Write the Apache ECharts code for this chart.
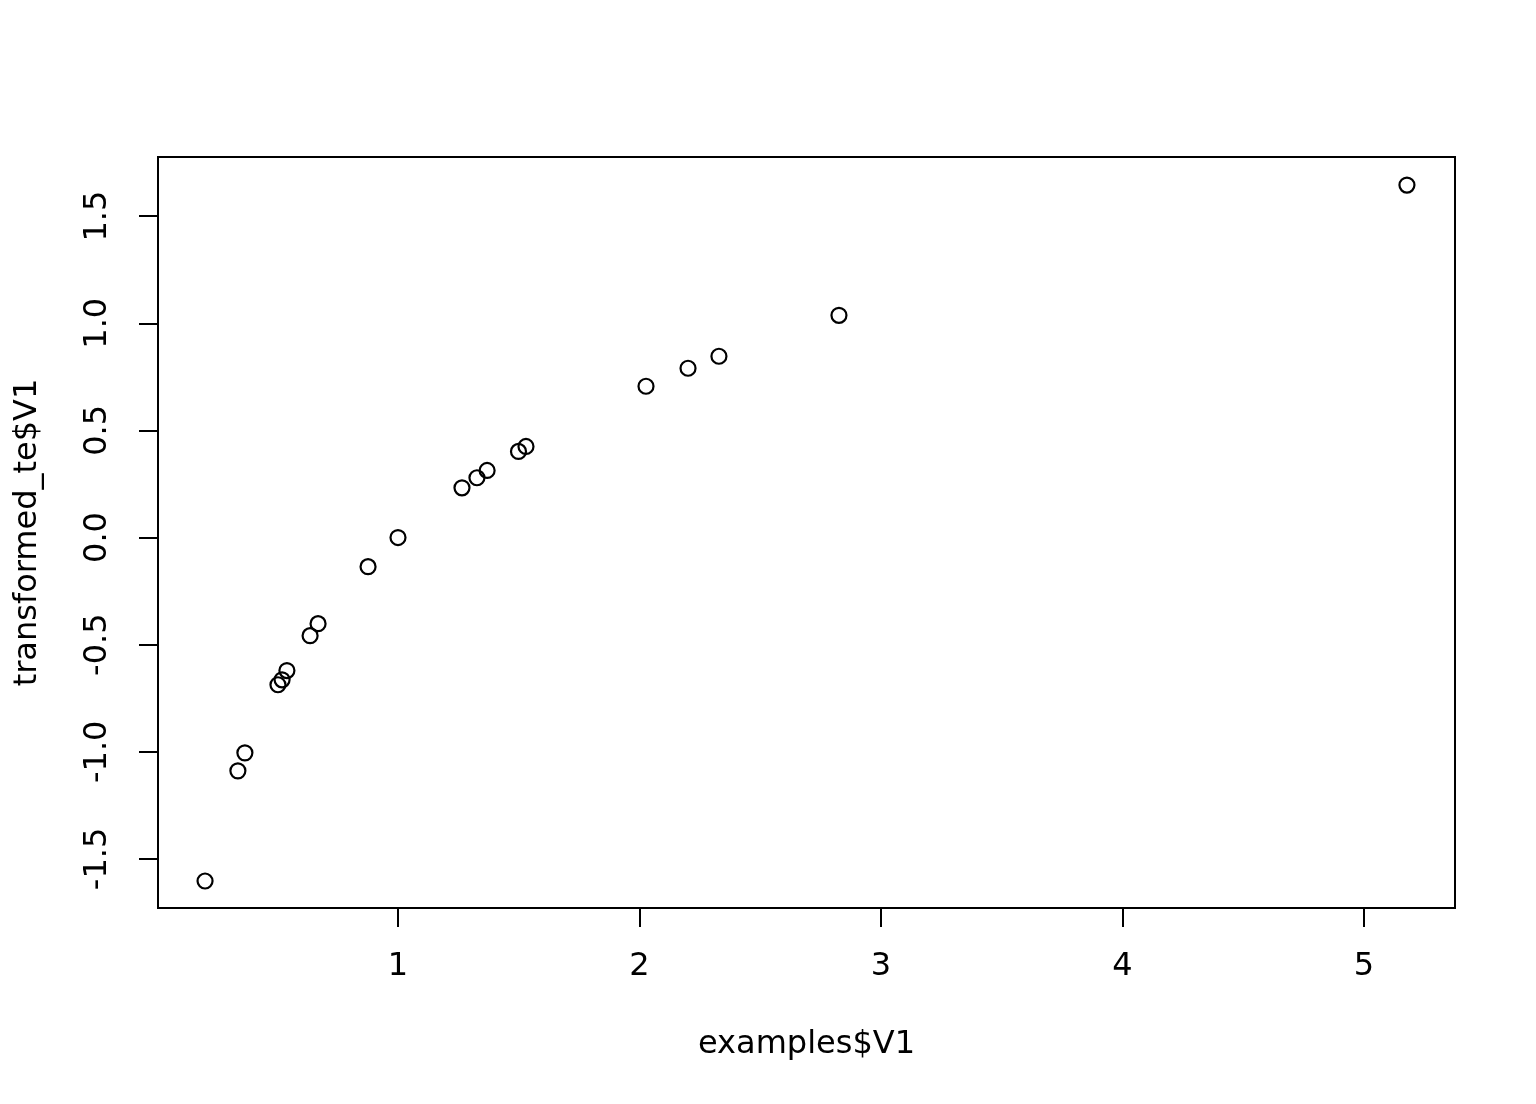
<!DOCTYPE html>
<html>
<head>
<meta charset="utf-8">
<script src="https://cdn.jsdelivr.net/npm/echarts@6/dist/echarts.min.js"></script>
<style>
html,body{margin:0;padding:0;background:#fff;}
#chart{width:1536px;height:1104px;}
</style>
</head>
<body>
<div id="chart"></div>
<script>
const xValues = [0.201, 0.337, 0.366, 0.503, 0.520, 0.540, 0.636, 0.669, 0.876, 1.000,
                 1.265, 1.327, 1.369, 1.499, 1.530, 2.027, 2.201, 2.329, 2.826, 5.178];
const yValues = [-1.603, -1.089, -1.005, -0.687, -0.664, -0.621, -0.458, -0.402, -0.136, 0.000,
                 0.232, 0.279, 0.313, 0.402, 0.425, 0.706, 0.790, 0.846, 1.037, 1.645];
const xTicks = [1, 2, 3, 4, 5];
const yTicks = [-1.5, -1.0, -0.5, 0.0, 0.5, 1.0, 1.5];
const xName = 'examples$V1';
const yName = 'transformed_te$V1';

const points = xValues.map((x, i) => [x, yValues[i]]);
const font = 'DejaVu Sans';
const fs = 32;

const chart = echarts.init(document.getElementById('chart'), null, {renderer: 'canvas'});
chart.setOption({
  animation: false,
  backgroundColor: '#ffffff',
  grid: {
    left: 158, right: 81, top: 157, bottom: 196,
    show: true, borderColor: '#000', borderWidth: 2, backgroundColor: 'transparent'
  },
  xAxis: {
    type: 'value',
    min: 0.0062, max: 5.377,
    axisLine: {show: false, onZero: false},
    splitLine: {show: false},
    axisTick: {show: true, inside: false, length: 19, customValues: xTicks,
               lineStyle: {color: '#000', width: 2}},
    axisLabel: {show: true, customValues: xTicks, margin: 43, color: '#000',
                fontFamily: font, fontSize: fs,
                formatter: v => String(v)},
    name: xName, nameLocation: 'middle', nameGap: 121,
    nameTextStyle: {color: '#000', fontFamily: font, fontSize: fs}
  },
  yAxis: {
    type: 'value',
    min: -1.729, max: 1.776,
    axisLine: {show: false, onZero: false},
    splitLine: {show: false},
    axisTick: {show: true, inside: false, length: 19, customValues: yTicks,
               lineStyle: {color: '#000', width: 2}},
    axisLabel: {show: true, customValues: yTicks, margin: 44, rotate: 90, color: '#000',
                fontFamily: font, fontSize: fs,
                formatter: v => v.toFixed(1)},
    name: yName, nameLocation: 'middle', nameGap: 114,
    nameTextStyle: {color: '#000', fontFamily: font, fontSize: fs}
  },
  series: [{
    type: 'scatter',
    data: points,
    symbol: 'circle',
    symbolSize: 15,
    itemStyle: {color: 'rgba(0,0,0,0)', borderColor: '#000', borderWidth: 2.2, opacity: 1},
    emphasis: {disabled: true}
  }]
});
</script>
</body>
</html>
